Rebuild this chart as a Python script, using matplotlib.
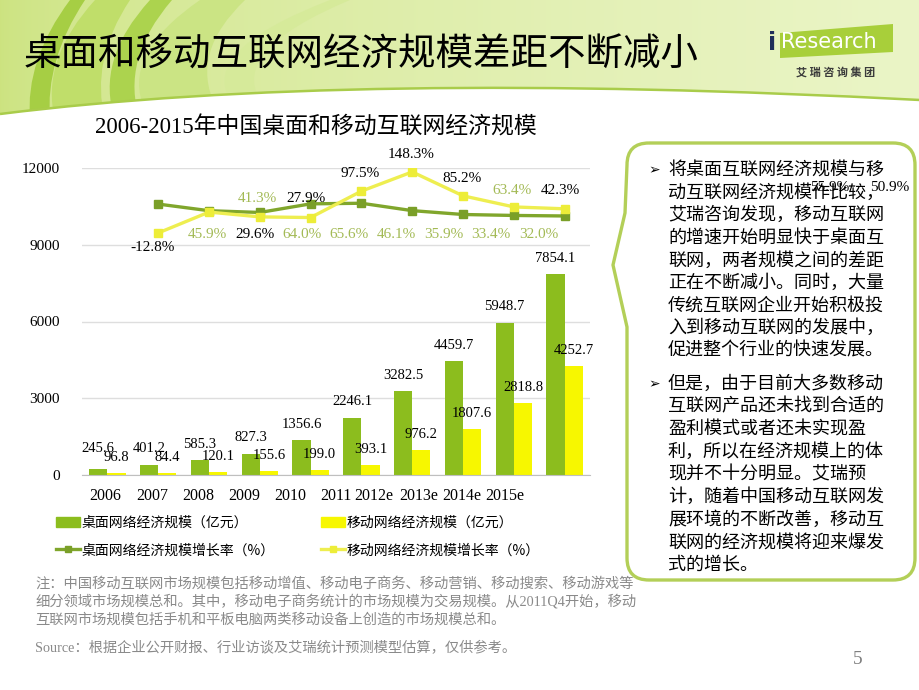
import numpy as np
import matplotlib
matplotlib.use("Agg")
import matplotlib.pyplot as plt
from matplotlib.path import Path
from matplotlib.patches import PathPatch, Patch, Polygon
from matplotlib.lines import Line2D

plt.rcParams['font.family'] = ['Liberation Serif', 'Noto Sans CJK SC', 'DejaVu Sans']
CJK = ['Noto Sans CJK SC', 'DejaVu Sans']
SERIF = ['Liberation Serif', 'Noto Sans CJK SC', 'DejaVu Sans']

# ---- data ----
years = ['2006', '2007', '2008', '2009', '2010', '2011', '2012e', '2013e', '2014e', '2015e']
desktop = [245.6, 401.2, 585.3, 827.3, 1356.6, 2246.1, 3282.5, 4459.7, 5948.7, 7854.1]
mobile = [96.8, 84.4, 120.1, 155.6, 199.0, 393.1, 976.2, 1807.6, 2818.8, 4252.7]
# growth rates 2007 - 2015e (%)
desktop_growth = [63.4, 45.9, 41.3, 64.0, 65.6, 46.1, 35.9, 33.4, 32.0]
mobile_growth = [-12.8, 42.3, 29.6, 27.9, 97.5, 148.3, 85.2, 55.9, 50.9]

# label layout as it appears on the slide (category index, secondary-axis value)
desk_lab_x = [7.96, 1.97, 2.96, 3.83, 4.76, 5.68, 6.63, 7.55, 8.50]
desk_lab_y = [98, -15.6, 77, -15.6, -15.6, -15.6, -15.6, -15.6, -15.6]
mob_lab_x = [0.88, 8.91, 2.91, 3.91, 4.97, 5.98, 6.98, 14.22, 15.40]
mob_lab_y = [-50, 98, -15.6, 77, 145.4, 195.5, 129.6, 106, 106]
xtick_pos = [-0.05, 0.88, 1.78, 2.69, 3.60, 4.50, 5.25, 6.12, 6.98, 7.83]

GREEN = '#8cbd1e'
YELLOW = '#f7f700'
GREEN_LINE = '#80a62c'
YELLOW_LINE = '#eeee50'
GREEN_TXT = '#a3ba55'

fig = plt.figure(figsize=(9.2, 6.9), dpi=100)

# ---- slide background (pixel coordinates) ----
bg = fig.add_axes([0, 0, 1, 1])
bg.set_zorder(0)
bg.axis('off')

xs = np.linspace(0, 1, 920)
left_c = np.array([0.80, 0.89, 0.50])
right_c = np.array([0.92, 0.96, 0.78])
img = left_c + (right_c - left_c) * (xs[None, :, None] ** 0.6)
img = np.repeat(img, 120, axis=0)
bg.imshow(img, extent=(0, 920, 120, 0), aspect='auto', zorder=0)


def leaf(bl, br, tl, tr, bend, color):
    verts = [bl, (bl[0] + bend, (bl[1] + tl[1]) / 2), tl, tr,
             (br[0] + bend, (br[1] + tr[1]) / 2), br, bl]
    codes = [Path.MOVETO, Path.CURVE3, Path.CURVE3, Path.LINETO,
             Path.CURVE3, Path.CURVE3, Path.CLOSEPOLY]
    bg.add_patch(PathPatch(Path(verts, codes), fc=color, ec='none', zorder=1))


leaf((30, 120), (50, 120), (70, 0), (85, 0), -5, '#a6ce44')
leaf((55, 120), (105, 120), (95, 0), (130, 0), -15, '#c0de6a')
leaf((115, 120), (140, 120), (150, 0), (172, 0), -20, '#acd34e')
leaf((145, 110), (215, 105), (200, 0), (245, 0), -25, '#cbe484')
leaf((230, 100), (260, 100), (330, 0), (350, 0), -30, '#d6ea9a')

swoosh = Path([(0, 114), (350, 70), (920, 100), (920, 690), (0, 690), (0, 114)],
              [Path.MOVETO, Path.CURVE3, Path.CURVE3, Path.LINETO, Path.LINETO, Path.CLOSEPOLY])
bg.add_patch(PathPatch(swoosh, fc='white', ec='none', zorder=2))
edge = Path([(0, 114), (350, 70), (920, 100)], [Path.MOVETO, Path.CURVE3, Path.CURVE3])
bg.add_patch(PathPatch(edge, fc='none', ec='#a9cc4a', lw=1.8, zorder=3))

# title
bg.text(24, 55, '桌面和移动互联网经济规模差距不断减小', fontsize=27, family=CJK,
        va='center', ha='left', color='black', zorder=4)

# iResearch logo
bg.add_patch(Polygon([(780, 33), (893, 24), (893, 52), (780, 58)], closed=True,
                     fc='#a8cf3a', ec='none', zorder=4))
bg.text(768, 43, 'i', fontsize=17, family=['DejaVu Sans'], fontweight='bold',
        color='#1f2f5a', va='center', ha='left', zorder=5)
bg.text(781, 42, 'Research', fontsize=15, family=['DejaVu Sans'],
        color='white', va='center', ha='left', zorder=5)
bg.text(836, 72, '艾 瑞 咨 询 集 团', fontsize=8, family=CJK, fontweight='bold',
        color='#3b3b3b', va='center', ha='center', zorder=5)

# callout box on the right
L, R, T, B, r = 627, 915, 143, 580, 22
box = Path([(L + r, T), (R - r, T), (R, T), (R, T + r), (R, B - r), (R, B), (R - r, B),
            (L + r, B), (L, B), (L, B - r), (L, 327), (613, 265), (625, 213), (L, T + r),
            (L, T), (L + r, T)],
           [Path.MOVETO, Path.LINETO, Path.CURVE3, Path.CURVE3, Path.LINETO, Path.CURVE3,
            Path.CURVE3, Path.LINETO, Path.CURVE3, Path.CURVE3, Path.LINETO, Path.LINETO,
            Path.LINETO, Path.LINETO, Path.CURVE3, Path.CURVE3])
bg.add_patch(PathPatch(box, fc='white', ec='#b3cf58', lw=2.4, zorder=4))

para1 = ['将桌面互联网经济规模与移', '动互联网经济规模作比较，', '艾瑞咨询发现，移动互联网',
         '的增速开始明显快于桌面互', '联网，两者规模之间的差距', '正在不断减小。同时，大量',
         '传统互联网企业开始积极投', '入到移动互联网的发展中，', '促进整个行业的快速发展。']
para2 = ['但是，由于目前大多数移动', '互联网产品还未找到合适的', '盈利模式或者还未实现盈',
         '利，所以在经济规模上的体', '现并不十分明显。艾瑞预', '计，随着中国移动互联网发',
         '展环境的不断改善，移动互', '联网的经济规模将迎来爆发', '式的增长。']
for start, lines in ((170, para1), (384, para2)):
    bg.text(648, start, '➢', fontsize=10, family=['DejaVu Sans'], va='center',
            ha='left', zorder=5)
    for k, line in enumerate(lines):
        bg.text(668, start + k * 22.6, line, fontsize=13, family=CJK, va='center',
                ha='left', zorder=5)

bg.set_xlim(0, 920)
bg.set_ylim(690, 0)

# ---- chart ----
ax = fig.add_axes([82 / 920, 1 - 475 / 690, 508 / 920, 307 / 690])
ax.set_zorder(2)
ax.patch.set_alpha(0)
x = np.arange(len(years))
w = 0.36
ax.bar(x - w / 2, desktop, w, color=GREEN, zorder=2)
ax.bar(x + w / 2, mobile, w, color=YELLOW, zorder=2)
ax.set_xlim(-0.5, len(years) - 0.5)
ax.set_ylim(0, 12000)
ax.set_yticks([0, 3000, 6000, 9000, 12000])
ax.set_xticks(xtick_pos, labels=years)
ax.tick_params(axis='y', length=0, pad=16, labelsize=11)
ax.tick_params(axis='x', length=0, pad=9, labelsize=11.5)
ax.set_axisbelow(True)
ax.yaxis.grid(True, color='#dedede', lw=1)
for s in ('left', 'right', 'top'):
    ax.spines[s].set_visible(False)
ax.spines['bottom'].set_color('#bfbfbf')

for i in range(len(years)):
    ax.text(x[i] - w / 2, max(desktop[i] + 620, 1055), f'{desktop[i]:.1f}',
            ha='center', va='center', fontsize=10.5, family=SERIF, zorder=4)
    ax.text(x[i] + w / 2, max(mobile[i] + 600, 665), f'{mobile[i]:.1f}',
            ha='center', va='center', fontsize=10.5, family=SERIF, zorder=4)

ax2 = ax.twinx()
ax2.patch.set_alpha(0)
ax2.set_ylim(-651.5, 158.6)
ax2.set_yticks([])
for s in ax2.spines.values():
    s.set_visible(False)
ax2.plot(x[1:], desktop_growth, color=GREEN_LINE, lw=2.4, marker='s', ms=6,
         mfc='#7a9f28', mec='#7a9f28', zorder=3)
ax2.plot(x[1:], mobile_growth, color=YELLOW_LINE, lw=2.4, marker='s', ms=6,
         mfc='#eded38', mec='#eded38', zorder=3)
for i, v in enumerate(desktop_growth):
    ax2.text(desk_lab_x[i], desk_lab_y[i], f'{v:.1f}%', ha='center', va='center',
             color=GREEN_TXT, fontsize=11, family=SERIF, clip_on=False)
for i, v in enumerate(mobile_growth):
    ax2.text(mob_lab_x[i], mob_lab_y[i], f'{v:.1f}%', ha='center', va='center',
             color='black', fontsize=11, family=SERIF, clip_on=False)

handles = [Patch(color=GREEN),
           Line2D([], [], color=GREEN_LINE, lw=2.4, marker='s', ms=5, mfc='#7a9f28', mec='#7a9f28'),
           Patch(color=YELLOW),
           Line2D([], [], color=YELLOW_LINE, lw=2.4, marker='s', ms=5, mfc='#eded38', mec='#eded38')]
labels = ['桌面网络经济规模（亿元）', '桌面网络经济规模增长率（%）',
          '移动网络经济规模（亿元）', '移动网络经济规模增长率（%）']
fig.legend(handles, labels, ncol=2, loc='upper left',
           bbox_to_anchor=(56 / 920, 1 - 516 / 690), frameon=False,
           prop={'family': CJK, 'size': 10}, handlelength=1.7, handletextpad=0.1,
           columnspacing=3.4, labelspacing=0.95, borderpad=0, borderaxespad=0)

# chart title
fig.text(95 / 920, 1 - 127 / 690, '2006-2015年中国桌面和移动互联网经济规模',
         fontsize=16.5, family=SERIF, va='center', ha='left')

# notes
notes = ['注：中国移动互联网市场规模包括移动增值、移动电子商务、移动营销、移动搜索、移动游戏等',
         '细分领域市场规模总和。其中，移动电子商务统计的市场规模为交易规模。从2011Q4开始，移动',
         '互联网市场规模包括手机和平板电脑两类移动设备上创造的市场规模总和。']
for k, line in enumerate(notes):
    fig.text(35 / 920, 1 - (584 + 18 * k) / 690, line, fontsize=10.3, family=SERIF,
             color='#8a8a8a', va='center', ha='left')
fig.text(35 / 920, 1 - 648 / 690, 'Source：根据企业公开财报、行业访谈及艾瑞统计预测模型估算，仅供参考。',
         fontsize=10.3, family=SERIF, color='#8a8a8a', va='center', ha='left')
fig.text(858 / 920, 1 - 660 / 690, '5', fontsize=14, family=SERIF, color='#7f7f7f',
         va='center', ha='center')

fig.savefig('out.png', dpi=100)
